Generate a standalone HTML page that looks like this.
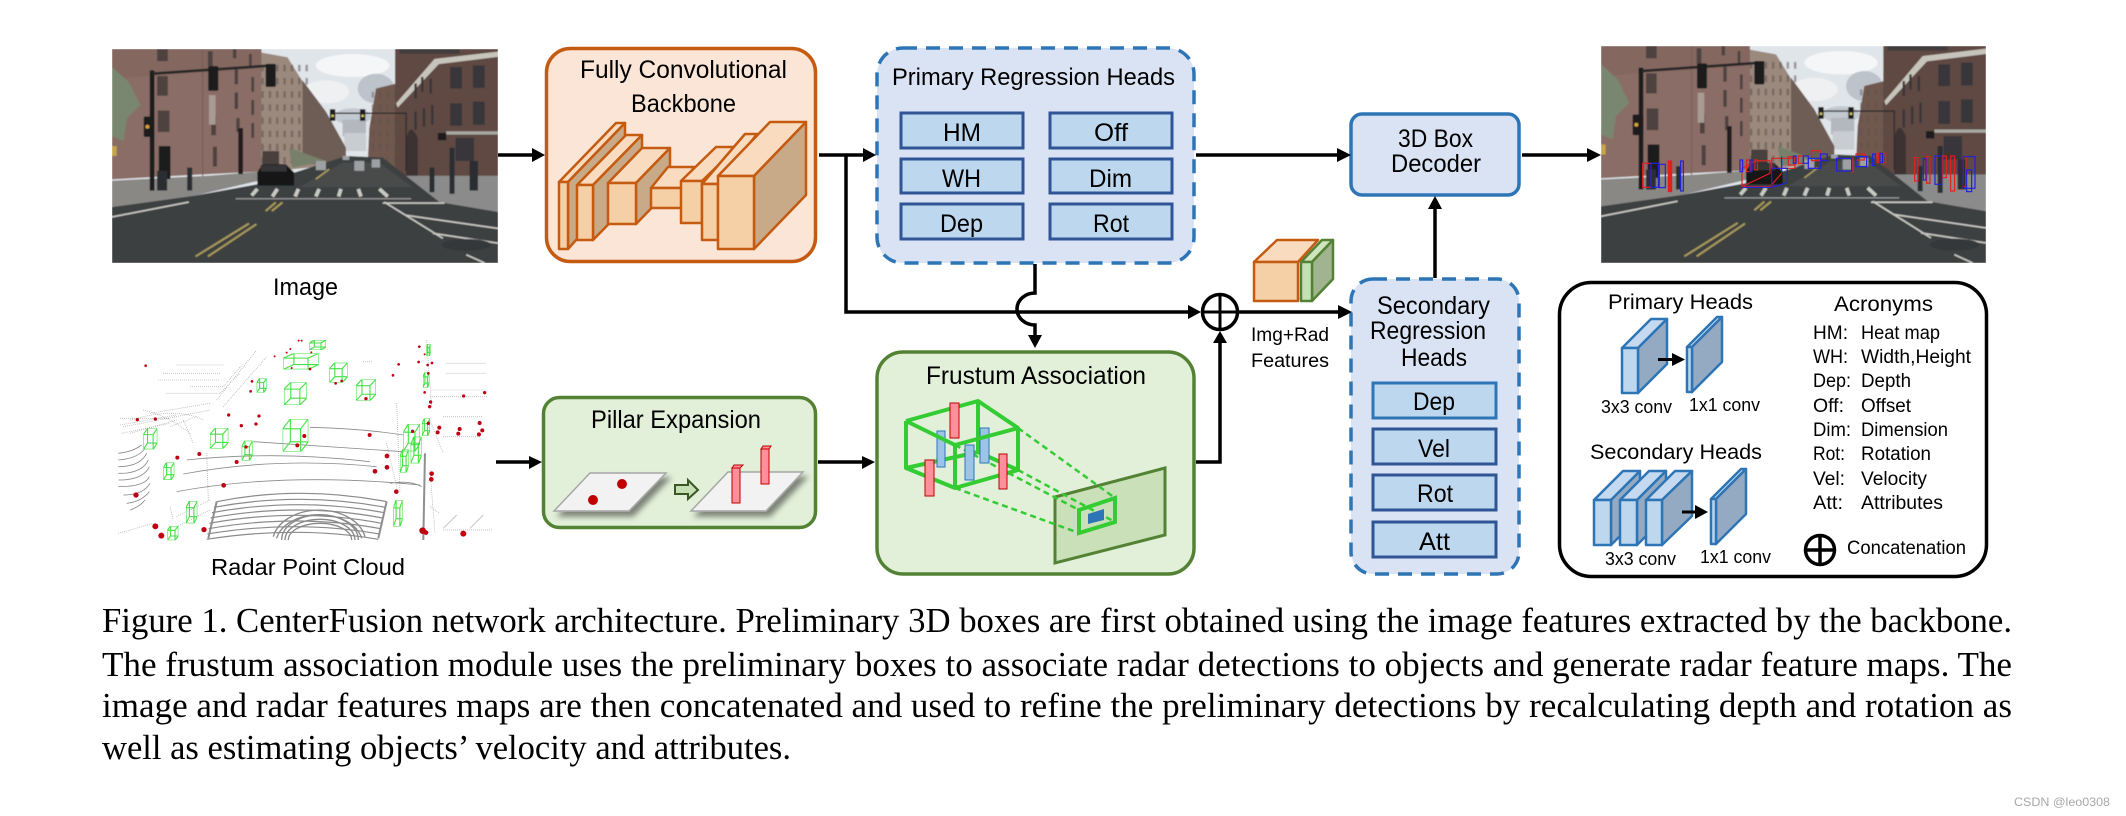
<!DOCTYPE html>
<html><head><meta charset="utf-8"><style>html,body{margin:0;padding:0;background:#fff}svg{display:block}text{font-family:"Liberation Sans",sans-serif;fill:#000}.cap{font-family:"Liberation Serif",serif;font-size:34.5px}</style></head><body>
<svg xmlns="http://www.w3.org/2000/svg" width="2126" height="816" viewBox="0 0 2126 816">
<defs>
<filter id="bl"><feGaussianBlur stdDeviation="1.5"/></filter>
<filter id="sh" x="-10%" y="-20%" width="125%" height="150%"><feDropShadow dx="4" dy="5" stdDeviation="3" flood-color="#000" flood-opacity=".45"/></filter>
<pattern id="w2" width="22" height="40" patternUnits="userSpaceOnUse"><rect x="7" y="8" width="7" height="20" fill="#5a4e4a"/></pattern>
<symbol id="wb" viewBox="0 0 10 10" preserveAspectRatio="none"><path vector-effect="non-scaling-stroke" d="M0 3H7V10H0ZM3 0H10V7H3ZM0 3L3 0M7 3L10 0M7 10L10 7M0 10L3 7" fill="none" stroke="#44e044" stroke-width="1.1"/></symbol>
<symbol id="street" viewBox="0 0 1155 650" preserveAspectRatio="none"><g filter="url(#bl)">
<rect width="1155" height="650" fill="#e0e5ea"/>
<ellipse cx="720" cy="50" rx="110" ry="35" fill="#f5f6f7"/><ellipse cx="790" cy="120" rx="55" ry="45" fill="#bcc3cb"/><ellipse cx="640" cy="130" rx="70" ry="35" fill="#eef0f2"/><ellipse cx="720" cy="205" rx="55" ry="25" fill="#c3c9d0"/>
<rect x="690" y="215" width="70" height="50" fill="#b4b8be"/><rect x="695" y="255" width="65" height="55" fill="#c9ccd0"/>
<polygon points="442,10 525,25 565,90 605,150 630,210 690,300 690,350 442,375" fill="#9b897e"/><rect x="445" y="30" width="150" height="320" fill="url(#w2)" opacity=".55"/>
<polygon points="570,95 640,190 700,300 700,345 570,350" fill="#6e5d55"/><polygon points="530,300 640,340 540,360" fill="#76806a"/><rect x="450" y="310" width="50" height="60" fill="#4a403c"/>
<polygon points="770,240 790,120 850,105 850,360 765,350" fill="#6f584f"/><rect x="770" y="130" width="80" height="220" fill="url(#w2)" opacity=".45"/>
<polygon points="847,0 1155,0 1155,410 950,395 847,385" fill="#5e4a42"/>
<polygon points="850,165 965,30 1155,8 1155,24 978,46 855,178" fill="#c6c4bb"/>
<g fill="#38363a"><rect x="1012" y="55" width="35" height="65"/><rect x="1080" y="50" width="35" height="68"/><rect x="1012" y="165" width="35" height="68"/><rect x="1080" y="160" width="35" height="70"/><rect x="1028" y="270" width="55" height="70"/><rect x="905" y="105" width="7" height="45"/><rect x="925" y="85" width="7" height="45"/><rect x="950" y="90" width="7" height="45"/><rect x="905" y="190" width="7" height="55"/><rect x="930" y="180" width="7" height="55"/><rect x="955" y="170" width="7" height="60"/><rect x="860" y="0" width="180" height="14" opacity=".7"/></g>
<path d="M880 390V280Q890 215 915 270V390Z" fill="#3c3232"/><rect x="1000" y="250" width="155" height="10" fill="#a8a7a2"/>
<polygon points="0,0 447,0 447,372 250,382 0,396" fill="#8a6d66"/>
<polygon points="0,0 447,0 447,60 0,90" fill="#80645e" opacity=".6"/>
<g fill="#4d4240"><rect x="135" y="0" width="32" height="37"/><rect x="135" y="82" width="32" height="60"/><rect x="137" y="187" width="35" height="65"/><rect x="287" y="7" width="14" height="45"/><rect x="362" y="0" width="10" height="28"/><rect x="410" y="15" width="8" height="40"/><rect x="292" y="70" width="10" height="55"/><rect x="367" y="62" width="10" height="45"/><rect x="417" y="85" width="8" height="45"/><rect x="367" y="132" width="10" height="50"/><rect x="417" y="155" width="8" height="45"/><rect x="297" y="202" width="14" height="60"/><rect x="372" y="210" width="10" height="42"/><rect x="417" y="225" width="8" height="45"/><rect x="302" y="297" width="12" height="60"/><rect x="380" y="295" width="8" height="50"/><rect x="145" y="295" width="30" height="70"/></g>
<rect x="270" y="0" width="3" height="390" fill="#775c55"/>
<polygon points="0,55 50,100 85,170 45,210 35,280 0,265" fill="#79866f"/>
<polygon points="0,400 290,385 450,372 440,400 250,445 0,480" fill="#8a8885"/>
<polygon points="880,385 1155,385 1155,500 990,475 880,420" fill="#8a8b8a"/>
<polygon points="0,480 0,650 1155,650 1155,495 980,465 810,330 700,325 440,410 250,445" fill="#3e4041"/>
<polygon points="690,345 800,345 900,420 560,420" fill="#4a4b4c"/>
<g stroke="#c8c8c2" fill="none" stroke-width="5"><path d="M810 468H995M0 510L230 465M815 465L990 575M880 505L1155 545M960 560L1155 590M1060 625L1115 650"/></g>
<g stroke="#c9c9c4" stroke-width="11"><path d="M418 445L435 425M480 448L495 425M548 448L558 425M610 448L620 425M678 448L685 425M745 448L737 425M825 448L800 425"/></g>
<path d="M370 455H895" stroke="#aaa" stroke-width="3"/>
<path d="M250 630L410 530M287 630L432 532M460 492L490 466M478 492L510 466" stroke="#a89a5c" stroke-width="6" fill="none"/><path d="M610 395L650 365" stroke="#a89a5c" stroke-width="5"/>
<ellipse cx="1060" cy="595" rx="75" ry="18" fill="#36383a"/>
<path d="M120 65V430" stroke="#1f1f1f" stroke-width="14"/><path d="M120 75L480 50" stroke="#262626" stroke-width="8"/><path d="M660 195H880V370" stroke="#2c2c2c" stroke-width="4" fill="none"/>
<g fill="#1b1b1b"><rect x="288" y="52" width="30" height="75" rx="3"/><rect x="460" y="45" width="30" height="70" rx="3"/><rect x="95" y="205" width="32" height="62" rx="4"/><rect x="652" y="183" width="16" height="35"/><rect x="742" y="183" width="16" height="35"/><rect x="140" y="295" width="35" height="100"/></g>
<circle cx="106" cy="236" r="6" fill="#d4a03a"/><circle cx="660" cy="203" r="4" fill="#d8c868"/><circle cx="750" cy="203" r="4" fill="#d8c868"/>
<rect x="0" y="295" width="14" height="30" fill="#c8a54a"/><rect x="290" y="140" width="20" height="90" fill="#a99a94"/><rect x="378" y="240" width="14" height="140" fill="#201f1f"/>
<g fill="#161616"><path d="M435 374L450 350H520L545 375V415H435Z"/></g><rect x="445" y="352" width="78" height="20" fill="#343638"/>
<g fill="#9ea1a4"><rect x="610" y="340" width="30" height="28"/><rect x="725" y="340" width="30" height="30"/><rect x="777" y="335" width="25" height="25"/><rect x="690" y="325" width="20" height="12"/></g>
<g fill="#2b2e33"><rect x="225" y="360" width="15" height="70"/><rect x="135" y="370" width="30" height="60"/><rect x="1070" y="340" width="25" height="90"/><rect x="950" y="360" width="15" height="75"/><rect x="1010" y="300" width="15" height="140"/></g><rect x="975" y="255" width="25" height="22" fill="#1e1e1e"/>
</g></symbol>
</defs>

<!-- Image -->
<use href="#street" x="112" y="49" width="386" height="214"/>
<text x="273" y="295" font-size="24" textLength="65" lengthAdjust="spacingAndGlyphs">Image</text>

<!-- Backbone -->
<rect x="546.5" y="48.5" width="269" height="213" rx="24" fill="#fbe5d6" stroke="#c55a11" stroke-width="3.5"/>
<text x="580" y="78" font-size="25" textLength="207" lengthAdjust="spacingAndGlyphs">Fully Convolutional</text>
<text x="631" y="112" font-size="25" textLength="105" lengthAdjust="spacingAndGlyphs">Backbone</text>
<g stroke="#c55a11" stroke-width="2.5" stroke-linejoin="round">
<g><polygon points="559,182 568,182 625,123 616,123" fill="#f9dcc0"/><polygon points="568,182 625,123 625,185 568,249" fill="#c8a988"/><rect x="559" y="182" width="9" height="67" fill="#f5cfa5"/></g>
<g><polygon points="577,185 593,185 642,135 626,135" fill="#f9dcc0"/><polygon points="593,185 642,135 642,190 593,240" fill="#c8a988"/><rect x="577" y="185" width="16" height="55" fill="#f5cfa5"/></g>
<g><polygon points="608,183 636,183 670,148 642,148" fill="#f9dcc0"/><polygon points="636,183 670,148 670,189 636,224" fill="#c8a988"/><rect x="608" y="183" width="28" height="41" fill="#f5cfa5"/></g>
<g><polygon points="651,188 682,188 694,167 668,167" fill="#f9dcc0"/><rect x="651" y="188" width="31" height="20" fill="#f5cfa5"/></g>
<g><polygon points="681,181 702,181 737,147 716,147" fill="#f9dcc0"/><rect x="681" y="181" width="21" height="42" fill="#f5cfa5"/></g>
<g><polygon points="702,184 718,184 757,134 745,134" fill="#f9dcc0"/><rect x="702" y="184" width="16" height="56" fill="#f5cfa5"/></g>
<g><polygon points="718,176 754,176 806,122 770,122" fill="#f9dcc0"/><polygon points="754,176 806,122 806,195 754,249" fill="#c8a988"/><rect x="718" y="176" width="36" height="73" fill="#f5cfa5"/></g>
</g>

<!-- Primary -->
<rect x="877" y="48" width="317" height="215" rx="26" fill="#dae3f3" stroke="#2e75b6" stroke-width="3.5" stroke-dasharray="14 9"/>
<text x="892" y="85" font-size="24.5" textLength="283" lengthAdjust="spacingAndGlyphs">Primary Regression Heads</text>
<g fill="#bdd7ee" stroke="#2f5597" stroke-width="3"><rect x="901" y="113" width="122" height="35"/><rect x="1050" y="113" width="122" height="35"/><rect x="901" y="159" width="122" height="34"/><rect x="1050" y="159" width="122" height="34"/><rect x="901" y="204" width="122" height="35"/><rect x="1050" y="204" width="122" height="35"/></g>
<g font-size="25"><text x="943" y="141" textLength="38" lengthAdjust="spacingAndGlyphs">HM</text><text x="1094" y="141" textLength="34" lengthAdjust="spacingAndGlyphs">Off</text><text x="942" y="187" textLength="39" lengthAdjust="spacingAndGlyphs">WH</text><text x="1089" y="187" textLength="43" lengthAdjust="spacingAndGlyphs">Dim</text><text x="940" y="232" textLength="43" lengthAdjust="spacingAndGlyphs">Dep</text><text x="1093" y="232" textLength="36" lengthAdjust="spacingAndGlyphs">Rot</text></g>

<!-- Decoder -->
<rect x="1351" y="114" width="168" height="81" rx="11" fill="#dae3f3" stroke="#2e75b6" stroke-width="3.5"/>
<text x="1398" y="147" font-size="25" textLength="75" lengthAdjust="spacingAndGlyphs">3D Box</text>
<text x="1391" y="172" font-size="25" textLength="90" lengthAdjust="spacingAndGlyphs">Decoder</text>

<!-- Feature cube -->
<g stroke-width="2.5" stroke-linejoin="round">
<polygon points="1301,262 1312,262 1333,240 1322,240" fill="#cfe5c0" stroke="#548235"/><polygon points="1312,262 1333,240 1333,279 1312,301" fill="#a0b58f" stroke="#548235"/><rect x="1301" y="262" width="11" height="39" fill="#c5e0b4" stroke="#548235"/>
<polygon points="1254,262 1298,262 1318,240 1277,240" fill="#f9dcc0" stroke="#c55a11"/><rect x="1254" y="262" width="44" height="39" fill="#f5cfa5" stroke="#c55a11"/>
</g>
<text x="1251" y="341" font-size="19" textLength="78" lengthAdjust="spacingAndGlyphs">Img+Rad</text>
<text x="1251" y="367" font-size="19" textLength="78" lengthAdjust="spacingAndGlyphs">Features</text>

<!-- Secondary -->
<rect x="1351" y="279" width="168" height="295" rx="22" fill="#dae3f3" stroke="#2e75b6" stroke-width="3.5" stroke-dasharray="14 9"/>
<text x="1377" y="314" font-size="25" textLength="113" lengthAdjust="spacingAndGlyphs">Secondary</text>
<text x="1370" y="339" font-size="25" textLength="116" lengthAdjust="spacingAndGlyphs">Regression</text>
<text x="1401" y="366" font-size="25" textLength="66" lengthAdjust="spacingAndGlyphs">Heads</text>
<g fill="#bdd7ee" stroke-width="3"><rect x="1373" y="383" width="123" height="35" stroke="#2e75b6"/><rect x="1373" y="429" width="123" height="35" stroke="#2f5597"/><rect x="1373" y="475" width="123" height="35" stroke="#2f5597"/><rect x="1373" y="522" width="123" height="35" stroke="#2f5597"/></g>
<g font-size="25"><text x="1413" y="410" textLength="42" lengthAdjust="spacingAndGlyphs">Dep</text><text x="1418" y="457" textLength="32" lengthAdjust="spacingAndGlyphs">Vel</text><text x="1417" y="502" textLength="36" lengthAdjust="spacingAndGlyphs">Rot</text><text x="1419" y="550" textLength="31" lengthAdjust="spacingAndGlyphs">Att</text></g>

<!-- Pillar -->
<rect x="543.5" y="397.5" width="272" height="130" rx="16" fill="#e2f0d9" stroke="#548235" stroke-width="3.5"/>
<text x="591" y="428" font-size="25" textLength="170" lengthAdjust="spacingAndGlyphs">Pillar Expansion</text>
<g filter="url(#sh)"><polygon points="554,511 590,473 666,473 629,511" fill="#f2f2f2" stroke="#a6a6a6" stroke-width="1.5"/></g>
<circle cx="622" cy="484" r="5" fill="#c00000"/><circle cx="593" cy="500" r="5" fill="#c00000"/>
<polygon points="675,485 688,485 688,480 698,490 688,499 688,494 675,494" fill="#c5e0b4" stroke="#385723" stroke-width="2"/>
<g filter="url(#sh)"><polygon points="691,511 728,472 803,472 766,511" fill="#f2f2f2" stroke="#a6a6a6" stroke-width="1.5"/></g>
<g stroke="#c00000" stroke-width="1"><rect x="761" y="449" width="8" height="35" fill="#ff8f9b"/><polygon points="761,449 763,446 771,446 769,449" fill="#ff8f9b"/><rect x="732" y="468" width="8" height="35" fill="#ff8f9b"/><polygon points="732,468 734,465 743,465 740,468" fill="#ff8f9b"/></g>

<!-- Frustum -->
<rect x="877" y="352" width="317" height="222" rx="26" fill="#e2f0d9" stroke="#548235" stroke-width="3.5"/>
<text x="926" y="384" font-size="25" textLength="220" lengthAdjust="spacingAndGlyphs">Frustum Association</text>
<polygon points="1055,497 1165,468 1165,535 1055,563" fill="#c9e0b9" stroke="#548235" stroke-width="3"/>
<g stroke="#33cc33" stroke-width="2.5" stroke-dasharray="6 4" fill="none"><path d="M1018,428L1115,498M1018,470L1115,522M955,488L1079,533M955,445L1079,510"/></g>
<g stroke="#33cc33" stroke-width="4" fill="none" stroke-linejoin="round"><path d="M906,421L978,401L1018,428L1018,470L978,452L906,468V421"/><path d="M978,401V452"/></g>
<g stroke="#c00000" stroke-width="1"><rect x="950" y="403" width="9" height="35" fill="#ff8f9b"/></g>
<g fill="#9dc3e6" stroke="#2e75b6" stroke-width="1"><rect x="937" y="431" width="8" height="36"/><rect x="980" y="428" width="9" height="35"/></g>
<g stroke="#33cc33" stroke-width="4" fill="none" stroke-linejoin="round"><path d="M906,421L955,445L1018,428M955,445V488L1018,470M906,468L955,488"/></g>
<g fill="#9dc3e6" stroke="#2e75b6" stroke-width="1"><rect x="965" y="445" width="9" height="35"/></g>
<g stroke="#c00000" stroke-width="1" fill="#ff8f9b"><rect x="925" y="460" width="9" height="36"/><rect x="999" y="454" width="8" height="35"/></g>
<polygon points="1079,510 1115,498 1115,522 1079,533" fill="none" stroke="#33cc33" stroke-width="4"/>
<polygon points="1088,514 1104,509 1104,520 1088,524" fill="#2e75b6"/>

<!-- Connectors -->
<g fill="none" stroke="#000" stroke-width="3.5">
<path d="M498 155H534M819 155H864M846 155V312H1190"/>
<path d="M1196 155H1338M1035 264V293A18 16 0 0 0 1035 325V337"/>
<path d="M1239 312H1339M1435 278V206M1196 462H1220V342"/>
<path d="M1522 155H1589M496 462H530M818 462H864"/>
</g>
<g fill="#000"><polygon points="545,155 532,148 532,162"/><polygon points="876,155 863,148 863,162"/><polygon points="1351,155 1337,148 1337,162"/><polygon points="1601,155 1587,148 1587,162"/><polygon points="1201,312 1188,305 1188,319"/><polygon points="1352,312 1338,305 1338,319"/><polygon points="1435,196 1428,209 1442,209"/><polygon points="1035,348 1028,335 1042,335"/><polygon points="1220,331 1213,343 1227,343"/><polygon points="542,462 529,456 529,469"/><polygon points="875,462 862,456 862,469"/></g>
<g fill="none" stroke="#000" stroke-width="3.5"><circle cx="1220" cy="312" r="17.5"/><path d="M1220 294V330M1202 312H1238" stroke-width="3"/></g>

<!-- Output image -->
<use href="#street" x="1601" y="46" width="385" height="217"/>
<g transform="translate(1540,30) scale(.3333)" fill="none" stroke-width="3.5">
<g stroke="#e02020"><rect x="308" y="400" width="25" height="72"/><rect x="385" y="393" width="10" height="92" fill="#e02020"/><path d="M606 470V415L650 392H690V430L606 470H690L725 430"/><rect x="695" y="385" width="70" height="30"/><rect x="1124" y="383" width="10" height="70"/><rect x="1160" y="380" width="10" height="80"/><rect x="1207" y="378" width="12" height="65"/><rect x="1232" y="378" width="12" height="105"/><rect x="1270" y="380" width="8" height="90"/><rect x="620" y="390" width="12" height="35"/><rect x="645" y="390" width="8" height="30"/><rect x="745" y="380" width="20" height="25"/><rect x="775" y="378" width="15" height="22"/><rect x="815" y="362" width="25" height="30"/><rect x="935" y="385" width="4" height="40"/><rect x="948" y="372" width="25" height="18"/><rect x="1008" y="370" width="8" height="28"/><rect x="1030" y="370" width="7" height="28"/></g>
<g stroke="#2020e0"><rect x="333" y="400" width="22" height="72"/><rect x="358" y="403" width="18" height="70"/><rect x="422" y="393" width="8" height="90"/><rect x="600" y="390" width="8" height="35"/><rect x="630" y="390" width="6" height="35"/><path d="M606 472H695L742 458V415H695V472M725 380V430"/><rect x="760" y="378" width="8" height="22"/><rect x="790" y="378" width="15" height="22"/><rect x="805" y="385" width="38" height="30"/><rect x="842" y="372" width="20" height="20"/><rect x="890" y="385" width="45" height="38"/><rect x="948" y="380" width="32" height="30"/><rect x="998" y="372" width="8" height="35"/><rect x="1020" y="370" width="8" height="28"/><rect x="1150" y="385" width="8" height="65"/><rect x="1185" y="378" width="20" height="85"/><rect x="1270" y="380" width="35" height="95"/><rect x="1280" y="420" width="15" height="65"/></g>
</g>

<!-- Legend -->
<rect x="1559.5" y="282.5" width="427" height="294" rx="32" fill="#fff" stroke="#000" stroke-width="3.5"/>
<text x="1608" y="309" font-size="21" textLength="145" lengthAdjust="spacingAndGlyphs">Primary Heads</text>
<text x="1590" y="459" font-size="21" textLength="172" lengthAdjust="spacingAndGlyphs">Secondary Heads</text>
<text x="1834" y="311" font-size="21" textLength="99" lengthAdjust="spacingAndGlyphs">Acronyms</text>
<g stroke="#2e75b6" stroke-width="2.5" stroke-linejoin="round">
<polygon points="1622,348 1638,348 1667,319 1651,319" fill="#c5daf0"/><polygon points="1638,348 1667,319 1667,364 1638,393" fill="#94aac2"/><rect x="1622" y="348" width="16" height="45" fill="#bdd7ee"/>
<polygon points="1687,347 1692,347 1722,317 1717,317" fill="#c5daf0"/><polygon points="1692,347 1722,317 1722,362 1692,392" fill="#94aac2"/><rect x="1687" y="347" width="5" height="45" fill="#bdd7ee"/>
<polygon points="1594,500 1611,500 1640,471 1623,471" fill="#c5daf0"/><polygon points="1611,500 1640,471 1640,516 1611,545" fill="#94aac2"/><rect x="1594" y="500" width="17" height="45" fill="#bdd7ee"/>
<polygon points="1620,500 1637,500 1666,471 1649,471" fill="#c5daf0"/><polygon points="1637,500 1666,471 1666,516 1637,545" fill="#94aac2"/><rect x="1620" y="500" width="17" height="45" fill="#bdd7ee"/>
<polygon points="1646,500 1662,500 1692,471 1675,471" fill="#c5daf0"/><polygon points="1662,500 1692,471 1692,516 1662,545" fill="#94aac2"/><rect x="1646" y="500" width="16" height="45" fill="#bdd7ee"/>
<polygon points="1711,499 1716,499 1746,469 1741,469" fill="#c5daf0"/><polygon points="1716,499 1746,469 1746,514 1716,544" fill="#94aac2"/><rect x="1711" y="499" width="5" height="45" fill="#bdd7ee"/>
</g>
<path d="M1658 359.500H1674M1682 512H1698" stroke="#000" stroke-width="3"/><polygon points="1685,359.500 1672,353 1672,366" fill="#000"/><polygon points="1708,512 1695,505 1695,519" fill="#000"/>
<g font-size="18"><text x="1601" y="413" textLength="71" lengthAdjust="spacingAndGlyphs">3x3 conv</text><text x="1689" y="411" textLength="71" lengthAdjust="spacingAndGlyphs">1x1 conv</text><text x="1605" y="565" textLength="71" lengthAdjust="spacingAndGlyphs">3x3 conv</text><text x="1700" y="563" textLength="71" lengthAdjust="spacingAndGlyphs">1x1 conv</text></g>
<g font-size="19">
<text x="1813" y="339" textLength="35" lengthAdjust="spacingAndGlyphs">HM:</text><text x="1861" y="339" textLength="79" lengthAdjust="spacingAndGlyphs">Heat map</text>
<text x="1813" y="363" textLength="35" lengthAdjust="spacingAndGlyphs">WH:</text><text x="1861" y="363" textLength="110" lengthAdjust="spacingAndGlyphs">Width,Height</text>
<text x="1813" y="387" textLength="38" lengthAdjust="spacingAndGlyphs">Dep:</text><text x="1861" y="387" textLength="50" lengthAdjust="spacingAndGlyphs">Depth</text>
<text x="1813" y="412" textLength="31" lengthAdjust="spacingAndGlyphs">Off:</text><text x="1861" y="412" textLength="50" lengthAdjust="spacingAndGlyphs">Offset</text>
<text x="1813" y="436" textLength="38" lengthAdjust="spacingAndGlyphs">Dim:</text><text x="1861" y="436" textLength="87" lengthAdjust="spacingAndGlyphs">Dimension</text>
<text x="1813" y="460" textLength="32" lengthAdjust="spacingAndGlyphs">Rot:</text><text x="1861" y="460" textLength="70" lengthAdjust="spacingAndGlyphs">Rotation</text>
<text x="1813" y="485" textLength="32" lengthAdjust="spacingAndGlyphs">Vel:</text><text x="1861" y="485" textLength="66" lengthAdjust="spacingAndGlyphs">Velocity</text>
<text x="1813" y="509" textLength="30" lengthAdjust="spacingAndGlyphs">Att:</text><text x="1861" y="509" textLength="82" lengthAdjust="spacingAndGlyphs">Attributes</text>
<text x="1847" y="554" textLength="119" lengthAdjust="spacingAndGlyphs">Concatenation</text>
</g>
<g fill="none" stroke="#000" stroke-width="3.5"><circle cx="1820" cy="550" r="14.500"/><path d="M1820 536V564M1806 550H1834"/></g>

<!-- Radar cloud -->
<g transform="translate(110,320) scale(.3333)">
<g fill="none" stroke="#8a8a8a" stroke-width="3.5">
<path d="M295 655L320 545M830 545L805 655M940 660L945 400" stroke-width="6" stroke="#8f8f8f"/>
<path d="M320 545Q570 495 830 545M312 562Q570 514 826 562M306 578Q570 530 822 578M302 594Q565 546 818 594M298 610Q562 562 815 610M296 626Q560 580 812 626M292 642Q560 598 808 642M290 658Q560 616 805 658"/>
<path d="M200 515Q520 455 930 495M220 462Q500 410 800 440M230 420Q500 392 780 425M430 365Q650 380 880 395M600 322Q750 325 880 345M840 490Q900 480 935 500" stroke-width="2.5"/>
<path d="M515 660A115 75 0 0 1 745 660M525 660A105 62 0 0 1 735 660M535 660A95 50 0 0 1 725 660M500 655A130 88 0 0 1 755 655M490 650A140 98 0 0 1 765 650" stroke-width="4"/>
<path d="M25 400Q70 395 95 375M25 420Q85 415 105 385M25 440Q90 440 110 400M25 460Q95 462 115 420M25 480Q100 480 118 440M25 500Q105 500 118 470M40 525Q100 525 120 490M50 550Q95 545 118 515M60 570Q90 560 105 540" stroke-width="2.5"/>
</g>
<g fill="none" stroke="#999" stroke-width="2.5" stroke-dasharray="2 4">
<path d="M200 135H340M160 160H330M145 180H330M240 200H340L400 130M170 220H330L390 160M320 240L440 90M340 260L470 110M30 295H180M40 320Q150 300 300 270M35 340L180 310M290 400L295 540M830 370L860 500M860 250L870 520M1010 130H1130M1010 160H1130M960 230H1130M1000 290H1120M1000 350H1110M965 210H1130M200 620L300 570M200 590L300 540M180 560L190 600M960 560L990 580M1000 630H1150M25 640L130 610M960 300L1000 400"/>
<path d="M60 300Q200 260 280 300M100 270Q180 290 240 340M220 300L250 370M760 125H790M960 450L975 640M950 60L965 260M30 315L200 285M60 340L200 300M120 280L300 250M180 320L260 290"/>
</g>
<path d="M1000 625L1040 585M1080 625L1120 585" stroke="#aaa" stroke-width="2"/>
<g>
<use href="#wb" x="520" y="100" width="106" height="48"/><use href="#wb" x="598" y="60" width="50" height="30"/><use href="#wb" x="658" y="128" width="55" height="60"/><use href="#wb" x="522" y="187" width="68" height="68"/><use href="#wb" x="738" y="178" width="60" height="64"/><use href="#wb" x="518" y="297" width="77" height="98"/><use href="#wb" x="440" y="175" width="30" height="43"/><use href="#wb" x="300" y="324" width="55" height="62"/><use href="#wb" x="395" y="362" width="33" height="60"/><use href="#wb" x="100" y="325" width="42" height="63"/><use href="#wb" x="160" y="427" width="33" height="53"/><use href="#wb" x="228" y="543" width="34" height="67"/><use href="#wb" x="172" y="618" width="33" height="43"/><use href="#wb" x="850" y="540" width="28" height="80"/><use href="#wb" x="870" y="388" width="26" height="70"/><use href="#wb" x="880" y="312" width="50" height="82"/><use href="#wb" x="902" y="350" width="33" height="80"/><use href="#wb" x="936" y="295" width="24" height="53"/><use href="#wb" x="939" y="157" width="19" height="46"/><use href="#wb" x="949" y="72" width="13" height="36"/>
</g>
<g fill="#c00010"><circle cx="107" cy="137" r="4"/><circle cx="82" cy="299" r="5"/><circle cx="136" cy="297" r="5"/><circle cx="78" cy="525" r="8"/><circle cx="136" cy="619" r="9"/><circle cx="154" cy="647" r="9"/><circle cx="282" cy="629" r="8"/><circle cx="341" cy="496" r="7"/><circle cx="268" cy="402" r="6"/><circle cx="202" cy="413" r="6"/><circle cx="380" cy="426" r="6"/><circle cx="408" cy="381" r="5"/><circle cx="394" cy="317" r="5"/><circle cx="356" cy="285" r="5"/><circle cx="438" cy="312" r="5"/><circle cx="447" cy="288" r="5"/><circle cx="422" cy="214" r="4"/><circle cx="426" cy="184" r="4"/><circle cx="494" cy="109" r="3"/><circle cx="530" cy="98" r="3"/><circle cx="541" cy="87" r="3"/><circle cx="566" cy="62" r="3"/><circle cx="575" cy="62" r="3"/><circle cx="604" cy="97" r="3"/><circle cx="545" cy="144" r="3"/><circle cx="600" cy="147" r="4"/><circle cx="677" cy="190" r="4"/><circle cx="695" cy="183" r="4"/><circle cx="768" cy="236" r="5"/><circle cx="583" cy="348" r="6"/><circle cx="562" cy="376" r="6"/><circle cx="779" cy="345" r="6"/><circle cx="831" cy="408" r="7"/><circle cx="831" cy="442" r="7"/><circle cx="795" cy="454" r="7"/><circle cx="859" cy="515" r="7"/><circle cx="908" cy="334" r="5"/><circle cx="866" cy="133" r="4"/><circle cx="849" cy="166" r="4"/><circle cx="926" cy="126" r="4"/><circle cx="928" cy="80" r="4"/><circle cx="944" cy="103" r="3"/><circle cx="953" cy="135" r="4"/><circle cx="966" cy="129" r="4"/><circle cx="955" cy="160" r="4"/><circle cx="944" cy="217" r="4"/><circle cx="962" cy="246" r="5"/><circle cx="959" cy="260" r="5"/><circle cx="955" cy="310" r="5"/><circle cx="988" cy="323" r="6"/><circle cx="983" cy="337" r="6"/><circle cx="1049" cy="327" r="6"/><circle cx="1045" cy="341" r="6"/><circle cx="1109" cy="309" r="6"/><circle cx="1117" cy="331" r="6"/><circle cx="1107" cy="343" r="6"/><circle cx="1061" cy="228" r="5"/><circle cx="1124" cy="218" r="5"/><circle cx="965" cy="461" r="7"/><circle cx="964" cy="478" r="7"/><circle cx="938" cy="632" r="10"/><circle cx="948" cy="638" r="7"/><circle cx="1060" cy="641" r="9"/></g>
</g>
<text x="211" y="575" font-size="23" textLength="194" lengthAdjust="spacingAndGlyphs">Radar Point Cloud</text>

<!-- Caption -->
<text class="cap" x="102" y="632" textLength="1910" lengthAdjust="spacingAndGlyphs">Figure 1. CenterFusion network architecture. Preliminary 3D boxes are first obtained using the image features extracted by the backbone.</text>
<text class="cap" x="102" y="676" textLength="1910" lengthAdjust="spacingAndGlyphs">The frustum association module uses the preliminary boxes to associate radar detections to objects and generate radar feature maps. The</text>
<text class="cap" x="102" y="717" textLength="1910" lengthAdjust="spacingAndGlyphs">image and radar features maps are then concatenated and used to refine the preliminary detections by recalculating depth and rotation as</text>
<text class="cap" x="102" y="759" textLength="689" lengthAdjust="spacingAndGlyphs">well as estimating objects’ velocity and attributes.</text>
<text x="2014" y="806" font-size="12" textLength="96" lengthAdjust="spacingAndGlyphs" style="fill:#a8a8a8">CSDN @leo0308</text>
</svg>
</body></html>
